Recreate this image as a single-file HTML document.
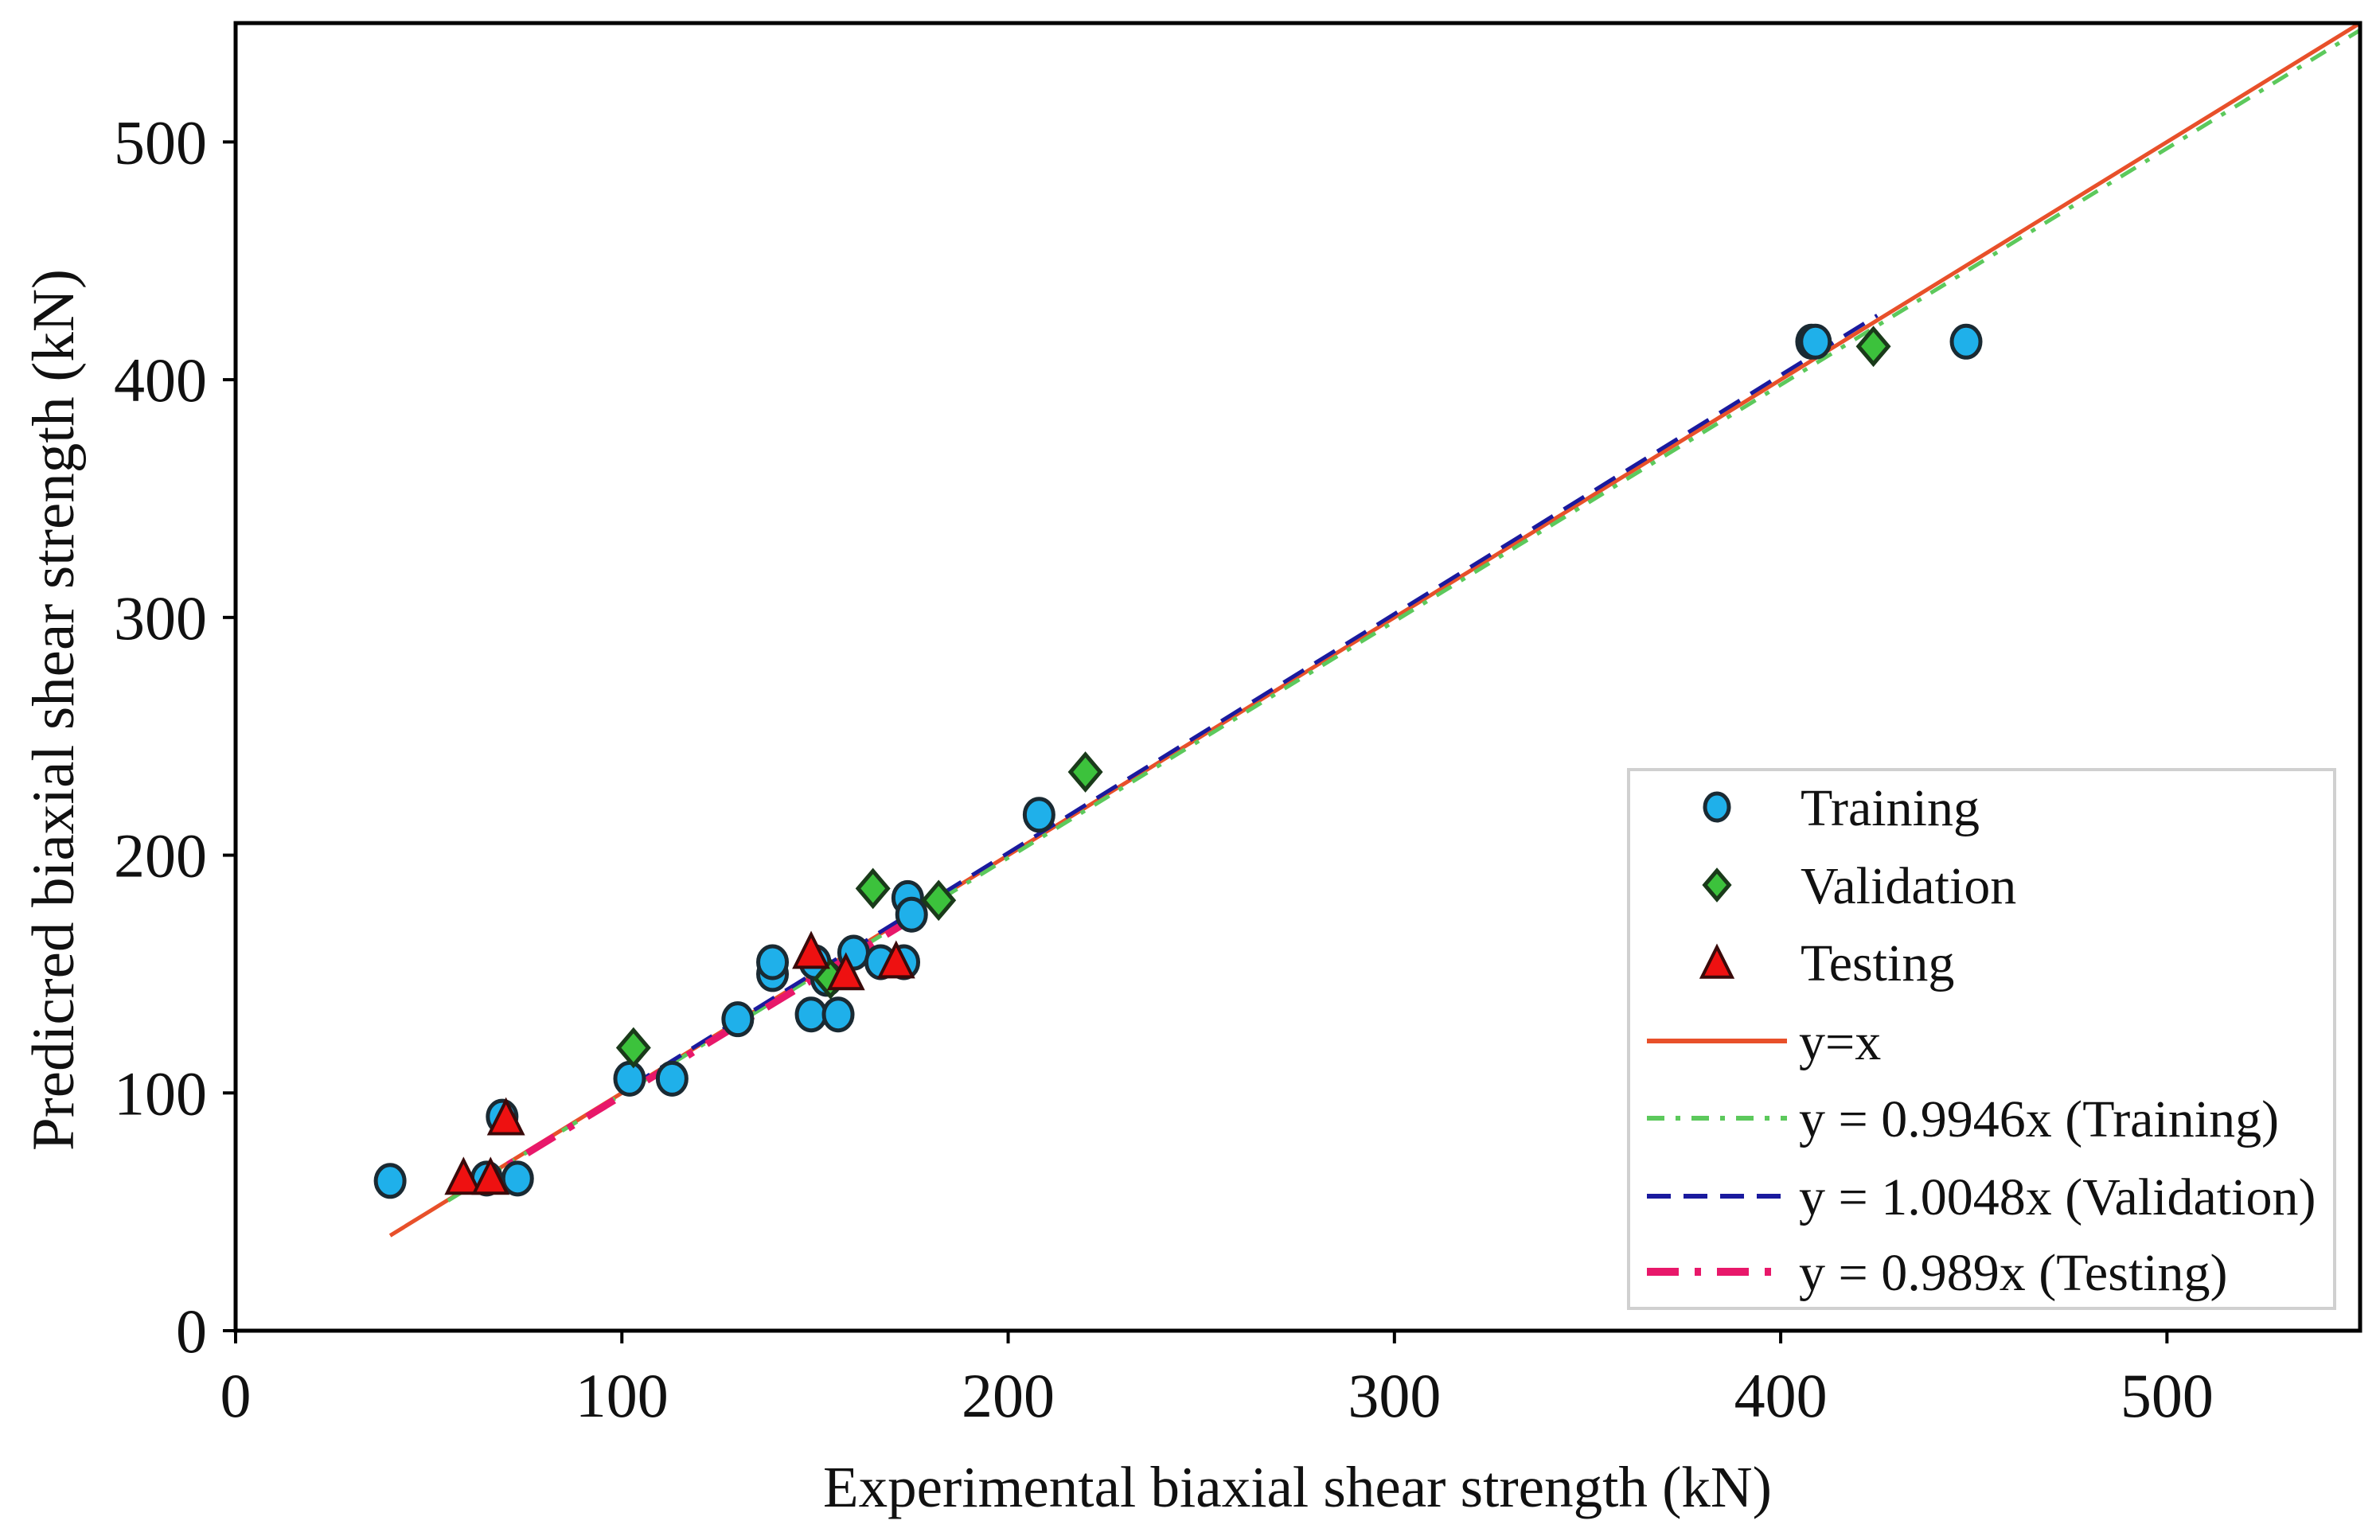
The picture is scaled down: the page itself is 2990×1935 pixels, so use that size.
<!DOCTYPE html>
<html><head><meta charset="utf-8"><style>
html,body{margin:0;padding:0;background:#fff;}
svg text{font-family:"Liberation Serif",serif;fill:#111;}
</style></head><body>
<svg id="chart" width="2990" height="1930" xmlns="http://www.w3.org/2000/svg">
<g id="lines"></g>
<g id="points"></g>
<g id="axes"></g>
<g id="legend"></g>
</svg>
<script>
const xTicks=[0,100,200,300,400,500];
const yTicks=[0,100,200,300,400,500];
const trainX=[40,65,73,69,102,113,130,139,139,149,156,153,160,167,173,174,175,208,408,409,448,150];
const trainY=[63,64,64,90,106,106,131,150,155,133,133,148,159,155,155,182,175,217,416,416,416,155];
const valX=[103,165,182,220,424,154];
const valY=[119,186,181,235,414,148];
const testX=[59,66,70,149,158,171];
const testY=[64,64,89,159,150,155];
const fitSlopes=[1,0.9946,1.0048,0.989];
const fitStart=[40,55,102,60];
const fitEnd=[550,550,425,175];

const L=296,R=2965,T=29,B=1672;
const X=v=>L+(v/550)*(R-L);
const Y=v=>B-(v/550)*(B-T);
const NS="http://www.w3.org/2000/svg";
function mk(tag,attrs,parent){const e=document.createElementNS(NS,tag);for(const k in attrs)e.setAttribute(k,attrs[k]);parent.appendChild(e);return e;}
const gl=document.getElementById('lines'),gp=document.getElementById('points'),ga=document.getElementById('axes'),gleg=document.getElementById('legend');
const lineStyles=[{c:'#e8502a',w:5,d:''},{c:'#5cc95c',w:5,d:'22 14 6 14'},{c:'#1a1a9e',w:5,d:'30 16'},{c:'#e8186a',w:9,d:'40 20 8 20'}];
const lineNames=['identity-line','training-fit-line','validation-fit-line','testing-fit-line'];
for(let i=0;i<4;i++){
  const s=lineStyles[i];
  const l=mk('line',{x1:X(fitStart[i]),y1:Y(fitStart[i]*fitSlopes[i]),x2:X(fitEnd[i]),y2:Y(fitEnd[i]*fitSlopes[i]),stroke:s.c,'stroke-width':s.w,'stroke-dasharray':s.d},gl);
  
  
}
function circle(cx,cy,p){const e=mk('ellipse',{cx:cx,cy:cy,rx:18,ry:20,fill:'#1fb0ea',stroke:'#1a2a33','stroke-width':5},p);return e;}
function diamond(cx,cy,p,s){s=s||22;return mk('polygon',{points:`${cx},${cy-s} ${cx+s*0.85},${cy} ${cx},${cy+s} ${cx-s*0.85},${cy}`,fill:'#3cc23c',stroke:'#1a3a1a','stroke-width':5},p);}
function tri(cx,cy,p,s){s=s||23;return mk('polygon',{points:`${cx},${cy-s} ${cx+s*0.9},${cy+s*0.8} ${cx-s*0.9},${cy+s*0.8}`,fill:'#ee1111',stroke:'#3a0a0a','stroke-width':4},p);}
for(let i=0;i<trainX.length;i++){const e=circle(X(trainX[i]),Y(trainY[i]),gp);
  
  }
for(let i=0;i<valX.length;i++){const e=diamond(X(valX[i]),Y(valY[i]),gp);
  
  }
for(let i=0;i<testX.length;i++){const e=tri(X(testX[i]),Y(testY[i]),gp);
  
  }
// axes
mk('rect',{x:L,y:T,width:R-L,height:B-T,fill:'none',stroke:'#000','stroke-width':5},ga);
for(const t of xTicks){mk('line',{x1:X(t),y1:B,x2:X(t),y2:B+16,stroke:'#000','stroke-width':4},ga);
  const tx=mk('text',{x:X(t),y:B+108,'font-size':78,'text-anchor':'middle'},ga);tx.textContent=t;
  
  }
for(const t of yTicks){mk('line',{x1:L-16,y1:Y(t),x2:L,y2:Y(t),stroke:'#000','stroke-width':4},ga);
  const tx=mk('text',{x:L-36,y:Y(t)+27,'font-size':78,'text-anchor':'end'},ga);tx.textContent=t;
  
  }
const xt=mk('text',{x:1630,y:1893,'font-size':73,'text-anchor':'middle'},ga);xt.textContent='Experimental biaxial shear strength (kN)';


const yt=mk('text',{x:0,y:0,'font-size':75,'text-anchor':'middle',transform:'translate(92,892) rotate(-90)'},ga);yt.textContent='Predicred biaxial shear strength (kN)';


// legend
mk('rect',{x:2046,y:967,width:887,height:677,fill:'#fff',stroke:'#d0d0d0','stroke-width':4},gleg);
const legY=[1014,1112,1209,1308,1405,1503,1598];
const legText=['Training','Validation','Testing','y=x','y = 0.9946x (Training)','y = 1.0048x (Validation)','y = 0.989x (Testing)'];
const mc=circle(2157,legY[0],gleg);mc.setAttribute('rx',15);mc.setAttribute('ry',17);
diamond(2157,legY[1],gleg,18);tri(2157,legY[2]+2,gleg,21);
for(let i=0;i<4;i++){const s=lineStyles[i];mk('line',{x1:2069,y1:legY[3+i],x2:2245,y2:legY[3+i],stroke:s.c,'stroke-width':s.w+1,'stroke-dasharray':s.d},gleg);}
for(let i=0;i<7;i++){const tx=mk('text',{x:i<3?2262:2260,y:legY[i]+23,'font-size':66},gleg);tx.textContent=legText[i];
  
  }
</script>
</body></html>
